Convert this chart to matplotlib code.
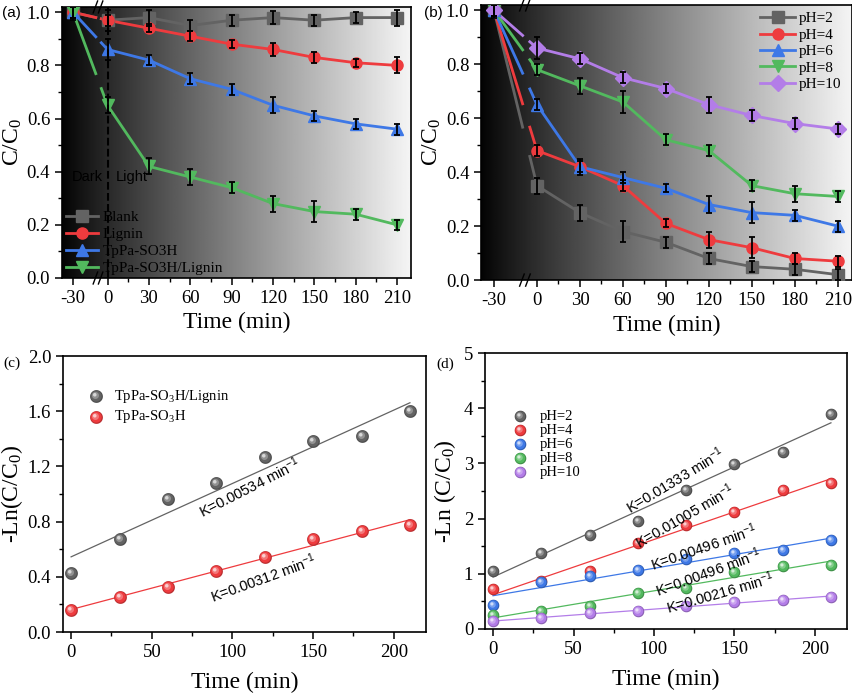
import numpy as np
import matplotlib
matplotlib.use("Agg")
import matplotlib.pyplot as plt
import matplotlib.transforms as mtransforms
from matplotlib.lines import Line2D
from matplotlib.path import Path
from matplotlib.colors import to_rgb
from matplotlib.legend_handler import HandlerTuple

plt.rcParams['font.family'] = ['Liberation Serif', 'DejaVu Serif']
plt.rcParams['mathtext.default'] = 'regular'
SANS = ['Liberation Sans', 'DejaVu Sans']

# ---------------- data ----------------
time = [-30, 0, 30, 60, 90, 120, 150, 180, 210]
time_labels = ['-30', '0', '30', '60', '90', '120', '150', '180', '210']

# (a) catalysts
blank = [1.00, 0.97, 0.98, 0.95, 0.97, 0.98, 0.97, 0.98, 0.98]
lignin = [1.00, 0.97, 0.94, 0.91, 0.88, 0.86, 0.83, 0.81, 0.80]
tppa = [1.00, 0.86, 0.82, 0.75, 0.71, 0.65, 0.61, 0.58, 0.56]
tppa_lig = [1.00, 0.65, 0.42, 0.38, 0.34, 0.28, 0.25, 0.24, 0.20]
blank_err = [0.03, 0.04, 0.03, 0.02, 0.02, 0.025, 0.02, 0.02, 0.03]
lignin_err = [0.02, 0.02, 0.015, 0.02, 0.015, 0.025, 0.02, 0.015, 0.03]
tppa_err = [0.02, 0.04, 0.02, 0.02, 0.02, 0.03, 0.02, 0.02, 0.02]
tppa_lig_err = [0.02, 0.03, 0.03, 0.03, 0.02, 0.03, 0.04, 0.02, 0.02]

# (b) pH
ph2 = [1.00, 0.35, 0.25, 0.18, 0.14, 0.08, 0.05, 0.04, 0.02]
ph4 = [1.00, 0.48, 0.42, 0.35, 0.21, 0.15, 0.12, 0.08, 0.07]
ph6 = [1.00, 0.65, 0.42, 0.38, 0.34, 0.28, 0.25, 0.24, 0.20]
ph8 = [1.00, 0.78, 0.72, 0.66, 0.52, 0.48, 0.35, 0.32, 0.31]
ph10 = [1.00, 0.86, 0.82, 0.75, 0.71, 0.65, 0.61, 0.58, 0.56]
ph2_err = [0.03, 0.03, 0.03, 0.04, 0.02, 0.02, 0.02, 0.02, 0.02]
ph4_err = [0.02, 0.02, 0.02, 0.02, 0.015, 0.03, 0.04, 0.02, 0.02]
ph6_err = [0.02, 0.02, 0.03, 0.02, 0.015, 0.03, 0.04, 0.02, 0.02]
ph8_err = [0.02, 0.02, 0.03, 0.04, 0.02, 0.02, 0.02, 0.03, 0.02]
ph10_err = [0.02, 0.04, 0.02, 0.02, 0.015, 0.03, 0.02, 0.02, 0.02]

# (c) kinetics
t_kin = [0, 30, 60, 90, 120, 150, 180, 210]
ln_tppa_lig = [0.43, 0.675, 0.965, 1.078, 1.271, 1.382, 1.423, 1.604]
ln_tppa = [0.162, 0.251, 0.330, 0.446, 0.543, 0.671, 0.733, 0.774]
k_c = ['K=0.00534 min$^{-1}$', 'K=0.00312 min$^{-1}$']

# (d) kinetics vs pH
ln_ph2 = [1.045, 1.377, 1.709, 1.963, 2.518, 2.989, 3.207, 3.901]
ln_ph4 = [0.731, 0.864, 1.051, 1.552, 1.890, 2.114, 2.518, 2.651]
ln_ph6 = [0.429, 0.857, 0.960, 1.075, 1.268, 1.377, 1.425, 1.606]
ln_ph8 = [0.254, 0.326, 0.423, 0.646, 0.737, 1.039, 1.135, 1.165]
ln_ph10 = [0.139, 0.193, 0.284, 0.332, 0.423, 0.489, 0.531, 0.574]
k_d = ['K=0.01333 min$^{-1}$', 'K=0.01005 min$^{-1}$', 'K=0.00496 min$^{-1}$',
       'K=0.00496 min$^{-1}$', 'K=0.00216 min$^{-1}$']

GRAY = '#636363'
RED = '#ee3b3e'
BLUE = '#3e78e6'
GREEN = '#52b95e'
PURPLE = '#b37de8'


def shade(ax):
    g = np.linspace(0, 1, 512) ** 0.9 * 0.95 + 0.01
    ax.imshow(g[None, :], extent=[0, 1, 0, 1], transform=ax.transAxes, aspect='auto',
              cmap='gray', vmin=0, vmax=1, zorder=0, interpolation='bilinear')


def broken_series(ax, xpos, y, err, color, marker, gap):
    xpos = np.asarray(xpos, float)
    y = np.asarray(y, float)
    y_lo = np.interp(gap[0], xpos, y)
    y_hi = np.interp(gap[1], xpos, y)
    ax.plot([xpos[0], gap[0]], [y[0], y_lo], color=color, lw=2, zorder=2)
    ax.plot(np.r_[gap[1], xpos[1:]], np.r_[y_hi, y[1:]], color=color, lw=2, zorder=2)
    ax.plot(xpos, y, ls='none', marker=marker, ms=8, color=color, zorder=3)
    ax.errorbar(xpos, y, yerr=err, fmt='none', ecolor='k', elinewidth=1.3,
                capsize=2.5, capthick=1.3, zorder=4)
    return Line2D([], [], color=color, lw=2, marker=marker, ms=8)


def break_marks(ax, xs):
    tr = mtransforms.blended_transform_factory(ax.transData, ax.transAxes)
    for xc in xs:
        for yb in (0, 1):
            ax.plot([xc - 1.6, xc + 1.6], [yb - 0.022, yb + 0.022], color='k', lw=1,
                    transform=tr, clip_on=False, zorder=6)


def ball_marker(r, dx, dy):
    t = np.linspace(0, 2 * np.pi, 41)
    verts = np.column_stack([dx + r * np.cos(t), dy + r * np.sin(t)])
    verts = np.vstack([[-1, -1], [1, 1], verts])
    codes = [Path.MOVETO, Path.MOVETO, Path.MOVETO] + [Path.LINETO] * (len(t) - 2) + [Path.CLOSEPOLY]
    return Path(verts, codes)


def balls(ax, x, y, color, s):
    base = np.array(to_rgb(color))
    layers = [(1.0, 0, 0, base * 0.78),
              (0.86, -0.05, 0.05, base),
              (0.55, -0.16, 0.16, base + (1 - base) * 0.3),
              (0.28, -0.27, 0.27, base + (1 - base) * 0.75)]
    hs = []
    for r, dx, dy, c in layers:
        hs.append(ax.scatter(x, y, s=s, marker=ball_marker(r, dx, dy), color=c,
                             linewidths=0, zorder=3))
    return tuple(hs)


def style(ax):
    for sp in ax.spines.values():
        sp.set_linewidth(1.2)
    ax.tick_params(direction='out', length=5, width=1.1, labelsize=13.5)
    ax.tick_params(which='minor', direction='out', length=3, width=1)


fig = plt.figure(figsize=(8.53, 6.95), dpi=100)
ax1 = fig.add_axes([0.0727, 0.600, 0.409, 0.390])
ax2 = fig.add_axes([0.564, 0.597, 0.435, 0.396])
ax3 = fig.add_axes([0.0739, 0.0906, 0.4256, 0.397])
ax4 = fig.add_axes([0.5686, 0.095, 0.4244, 0.397])

# ---------------- (a) ----------------
pos_a = [-25 if t == -30 else t for t in time]
shade(ax1)
hA = []
for y, e, c, m in [(blank, blank_err, GRAY, 's'), (lignin, lignin_err, RED, 'o'),
                   (tppa, tppa_err, BLUE, '^'), (tppa_lig, tppa_lig_err, GREEN, 'v')]:
    hA.append(broken_series(ax1, pos_a, y, e, c, m, (-8.5, -4.5)))
ax1.axvline(0, color='k', ls='--', lw=1.5, zorder=5)
ax1.text(-15, 0.38, 'Dark', family=SANS, fontsize=10.5, ha='center', va='center')
ax1.text(17.5, 0.38, 'Light', family=SANS, fontsize=10.5, ha='center', va='center')
ax1.legend(hA, ['Blank', 'Lignin', 'TpPa-SO3H', 'TpPa-SO3H/Lignin'], loc='lower left',
           bbox_to_anchor=(0.012, 0.01), frameon=False, fontsize=11, handlelength=2.1,
           handletextpad=0.3, labelspacing=0.22, borderpad=0, borderaxespad=0)
ax1.set_xlim(-33, 220)
ax1.set_ylim(0, 1.02)
ax1.set_xticks(pos_a)
ax1.set_xticklabels(time_labels)
ax1.set_xticks([15, 45, 75, 105, 135, 165, 195], minor=True)
ax1.set_yticks(np.arange(0, 1.01, 0.2))
ax1.set_yticks(np.arange(0.1, 1.0, 0.2), minor=True)
ax1.set_xlabel('Time (min)', fontsize=17, labelpad=4)
ax1.set_ylabel('C/C$_0$', fontsize=17, labelpad=2)
break_marks(ax1, [-8.8, -5.0])
style(ax1)
fig.text(0.002, 0.982, '(a)', family=SANS, fontsize=11, va='center')

# ---------------- (b) ----------------
shade(ax2)
hB = []
for y, e, c, m in [(ph2, ph2_err, GRAY, 's'), (ph4, ph4_err, RED, 'o'), (ph6, ph6_err, BLUE, '^'),
                   (ph8, ph8_err, GREEN, 'v'), (ph10, ph10_err, PURPLE, 'D')]:
    hB.append(broken_series(ax2, time, y, e, c, m, (-10, -5)))
ax2.legend(hB, ['pH=2', 'pH=4', 'pH=6', 'pH=8', 'pH=10'], loc='upper left',
           bbox_to_anchor=(0.752, 0.975), frameon=False, fontsize=11, handlelength=2.3,
           handletextpad=0.2, labelspacing=0.18, borderpad=0, borderaxespad=0)
ax2.set_xlim(-39, 220)
ax2.set_ylim(0, 1.02)
ax2.set_xticks(time)
ax2.set_xticklabels(time_labels)
ax2.set_xticks([15, 45, 75, 105, 135, 165, 195], minor=True)
ax2.set_yticks(np.arange(0, 1.01, 0.2))
ax2.set_yticks(np.arange(0.1, 1.0, 0.2), minor=True)
ax2.set_xlabel('Time (min)', fontsize=17, labelpad=4)
ax2.set_ylabel('C/C$_0$', fontsize=17, labelpad=2)
break_marks(ax2, [-10.5, -6.3])
style(ax2)
fig.text(0.497, 0.982, '(b)', family=SANS, fontsize=11, va='center')

# ---------------- (c) ----------------
xx = np.array([0, 210])
hC = []
for y, c in [(ln_tppa_lig, GRAY), (ln_tppa, RED)]:
    coef = np.polyfit(t_kin, y, 1)
    ax3.plot(xx, np.polyval(coef, xx), color=c, lw=0.9, zorder=2)
    hC.append(balls(ax3, t_kin, y, c, 85))
ax3.legend(hC, ['TpPa-SO$_3$H/Lignin', 'TpPa-SO$_3$H'], handler_map={tuple: HandlerTuple(ndivide=1, pad=0)},
           loc='upper left', bbox_to_anchor=(0.065, 0.885), frameon=False, fontsize=10.5,
           scatterpoints=1, handlelength=1.3, handletextpad=0.6, labelspacing=0.25,
           borderpad=0, borderaxespad=0)
ax3.text(111, 1.05, k_c[0], family=SANS, fontsize=10.5, rotation=27, rotation_mode='anchor',
         ha='center', va='center')
ax3.text(119, 0.39, k_c[1], family=SANS, fontsize=10.5, rotation=20, rotation_mode='anchor',
         ha='center', va='center')
ax3.set_xlim(-5, 220)
ax3.set_ylim(0, 2.0)
ax3.set_xticks([0, 50, 100, 150, 200])
ax3.set_xticks([25, 75, 125, 175], minor=True)
ax3.set_yticks(np.arange(0, 2.01, 0.4))
ax3.set_yticks(np.arange(0.2, 2.0, 0.4), minor=True)
ax3.set_xlabel('Time (min)', fontsize=17, labelpad=8)
ax3.set_ylabel('-Ln(C/C$_0$)', fontsize=17, labelpad=2)
style(ax3)
fig.text(0.004, 0.478, '(c)', fontsize=11, va='center')

# ---------------- (d) ----------------
hD = []
for y, c in [(ln_ph2, GRAY), (ln_ph4, RED), (ln_ph6, BLUE), (ln_ph8, GREEN), (ln_ph10, PURPLE)]:
    coef = np.polyfit(t_kin, y, 1)
    ax4.plot(xx, np.polyval(coef, xx), color=c, lw=0.9, zorder=2)
    hD.append(balls(ax4, t_kin, y, c, 70))
ax4.legend(hD, ['pH=2', 'pH=4', 'pH=6', 'pH=8', 'pH=10'], handler_map={tuple: HandlerTuple(ndivide=1, pad=0)},
           loc='upper left', bbox_to_anchor=(0.07, 0.795), frameon=False, fontsize=10.5,
           scatterpoints=1, handlelength=1.3, handletextpad=0.7, labelspacing=0.05,
           borderpad=0, borderaxespad=0)
for (tx, ty, rot), lab in zip([(113, 2.70, 31), (119, 2.05, 30), (131, 1.49, 19),
                               (134, 1.03, 20), (141, 0.65, 16)], k_d):
    ax4.text(tx, ty, lab, family=SANS, fontsize=10.5, rotation=rot, rotation_mode='anchor',
             ha='center', va='center')
ax4.set_xlim(-5, 220)
ax4.set_ylim(0, 5)
ax4.set_xticks([0, 50, 100, 150, 200])
ax4.set_xticks([25, 75, 125, 175], minor=True)
ax4.set_yticks(np.arange(0, 5.1, 1))
ax4.set_yticks(np.arange(0.5, 5, 1), minor=True)
ax4.set_xlabel('Time (min)', fontsize=17, labelpad=8)
ax4.set_ylabel('-Ln (C/C$_0$)', fontsize=17, labelpad=4)
style(ax4)
fig.text(0.512, 0.476, '(d)', fontsize=11, va='center')

fig.savefig('out.png', dpi=100)
